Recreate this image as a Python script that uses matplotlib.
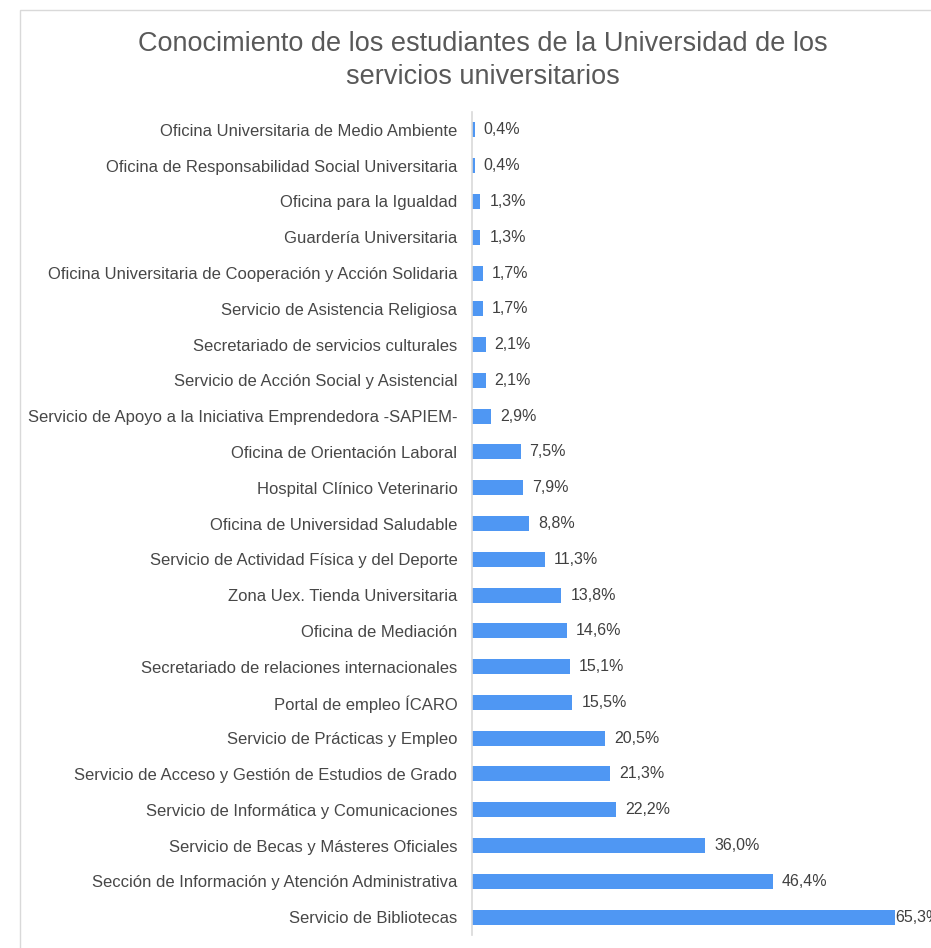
import matplotlib
matplotlib.use("Agg")
import matplotlib.pyplot as plt
from matplotlib.patches import Rectangle

plt.rcParams['font.family'] = ['Liberation Sans', 'DejaVu Sans']

categories = [
    "Oficina Universitaria de Medio Ambiente",
    "Oficina de Responsabilidad Social Universitaria",
    "Oficina para la Igualdad",
    "Guardería Universitaria",
    "Oficina Universitaria de Cooperación y Acción Solidaria",
    "Servicio de Asistencia Religiosa",
    "Secretariado de servicios culturales",
    "Servicio de Acción Social y Asistencial",
    "Servicio de Apoyo a la Iniciativa Emprendedora -SAPIEM-",
    "Oficina de Orientación Laboral",
    "Hospital Clínico Veterinario",
    "Oficina de Universidad Saludable",
    "Servicio de Actividad Física y del Deporte",
    "Zona Uex. Tienda Universitaria",
    "Oficina de Mediación",
    "Secretariado de relaciones internacionales",
    "Portal de empleo ÍCARO",
    "Servicio de Prácticas y Empleo",
    "Servicio de Acceso y Gestión de Estudios de Grado",
    "Servicio de Informática y Comunicaciones",
    "Servicio de Becas y Másteres Oficiales",
    "Sección de Información y Atención Administrativa",
    "Servicio de Bibliotecas",
]
values = [0.4, 0.4, 1.3, 1.3, 1.7, 1.7, 2.1, 2.1, 2.9, 7.5, 7.9, 8.8, 11.3,
          13.8, 14.6, 15.1, 15.5, 20.5, 21.3, 22.2, 36.0, 46.4, 65.3]
title = "Conocimiento de los estudiantes de la Universidad de los\nservicios universitarios"

W, H = 931, 948
fig = plt.figure(figsize=(W / 100, H / 100), dpi=100)

# outer chart border
fig.patches.append(Rectangle((20 / W, -0.05), 1.1, 1 - 10 / H + 0.05,
                             transform=fig.transFigure, fill=False,
                             edgecolor='#d9d9d9', linewidth=1.0))

ax = fig.add_axes([472 / W, 1 - 935 / H, 1 - 472 / W, (935 - 112) / H])
n = len(categories)
ypos = list(range(n))
ax.barh(ypos, values, height=0.42, color='#4f97f3')
ax.set_ylim(n - 0.5, -0.5)
ax.set_xlim(0, (W - 472) / 6.48)
ax.set_yticks(ypos)
ax.set_yticklabels(categories, fontsize=12, color='#474747')
ax.tick_params(axis='y', length=0, pad=10.5)
ax.set_xticks([])
for s in ['top', 'right', 'bottom']:
    ax.spines[s].set_visible(False)
ax.spines['left'].set_color('#d9d9d9')
ax.spines['left'].set_linewidth(1.2)

xmax = ax.get_xlim()[1]
for y, v in zip(ypos, values):
    off = 9 if v < xmax * 0.9 else 0
    ax.annotate(f"{v:.1f}".replace('.', ',') + "%", (v, y), xytext=(off, 0),
                textcoords='offset pixels',
                va='center', ha='left', fontsize=11.5, color='#404040',
                annotation_clip=False)

fig.text(483 / W, 1 - 60.5 / H, title, ha='center', va='center', fontsize=19.5,
         color='#595959', linespacing=1.38)

fig.savefig("out.png", dpi=100)
